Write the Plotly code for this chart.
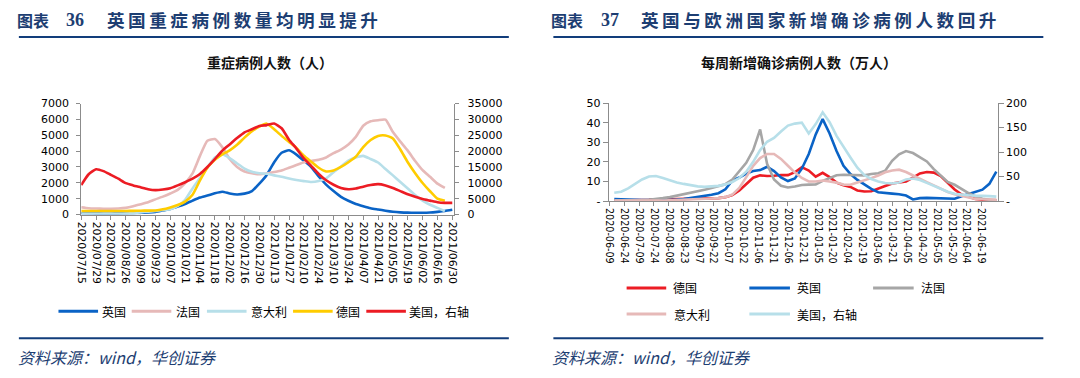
import plotly.graph_objects as go
import pandas as pd

W, H = 1080, 378

# ---------------- Left chart: ICU patients (weekly readings) ----------------
left_start = "2020-07-15"
uk_icu = [80, 70, 60, 55, 55, 60, 70, 90, 110, 130,
          170, 260, 350, 500, 670, 880, 1075, 1200, 1340, 1440,
          1330, 1270, 1320, 1480, 1950, 2500, 3300, 3900, 4050, 3780,
          3400, 3000, 2400, 1890, 1480, 1120, 870, 670, 530, 405,
          325, 245, 180, 140, 120, 115, 115, 130, 170, 220, 300]
fr_icu = [460, 400, 380, 370, 370, 380, 420, 520, 650, 780,
          960, 1130, 1330, 1560, 1990, 2600, 3700, 4650, 4760, 4250,
          3500, 3000, 2720, 2610, 2540, 2590, 2680, 2780, 2950, 3120,
          3300, 3380, 3450, 3600, 3870, 4100, 4420, 4900, 5600, 5880,
          5950, 5980, 5200, 4600, 4030, 3380, 2800, 2380, 1950, 1680, None]
it_icu = [60, 55, 50, 45, 45, 50, 60, 90, 140, 180,
          220, 280, 340, 540, 930, 1650, 2300, 2970, 3600, 3800,
          3560, 3220, 2900, 2700, 2610, 2570, 2470, 2390, 2270, 2180,
          2110, 2050, 2110, 2280, 2670, 3030, 3400, 3600, 3700, 3500,
          3280, 2870, 2470, 2050, 1640, 1230, 880, 620, 420, 220, None]
de_icu = [230, 230, 225, 225, 225, 225, 230, 235, 245, 250,
          260, 330, 450, 600, 820, 1250, 2150, 2950, 3450, 3800,
          4050, 4400, 4850, 5250, 5550, 5730, 5380, 4960, 4580, 4200,
          3710, 3330, 2950, 2720, 2780, 3000, 3300, 3650, 4250, 4700,
          4960, 4990, 4800, 4100, 3300, 2610, 1990, 1470, 1000, 870, None]
us_icu = [9300, 12700, 14300, 13700, 12500, 11300, 9900, 9200, 8600, 8000,
          7700, 7900, 8300, 9200, 10200, 11300, 12800, 15000, 17500, 20100,
          22100, 24100, 25900, 26900, 27900, 28200, 28700, 27200, 23600, 20800,
          17700, 15300, 12800, 10800, 9400, 8400, 8000, 8200, 8800, 9300,
          9600, 9200, 8400, 7400, 6400, 5600, 4900, 4400, 3900, 3700, 3700]
left_ticks = ["2020/07/15", "2020/07/29", "2020/08/12", "2020/08/26", "2020/09/09",
              "2020/09/23", "2020/10/07", "2020/10/21", "2020/11/04", "2020/11/18",
              "2020/12/02", "2020/12/16", "2020/12/30", "2021/01/13", "2021/01/27",
              "2021/02/10", "2021/02/24", "2021/03/10", "2021/03/24", "2021/04/07",
              "2021/04/21", "2021/05/05", "2021/05/19", "2021/06/02", "2021/06/16",
              "2021/06/30"]

# ---------------- Right chart: weekly new cases (10k) ----------------
right_start = "2020-06-14"
de_cases = [0.3, 0.3, 0.3, 0.4, 0.5, 0.6, 0.8, 0.9, 0.9, 0.9,
            0.9, 1.0, 1.1, 1.2, 1.3, 1.5, 2.0, 3.0, 5.4, 8.9,
            11.9, 13.1, 12.8, 12.9, 13.3, 13.2, 14.7, 17.3, 15.6, 12.4,
            14.4, 12.2, 9.4, 8.1, 7.2, 5.4, 4.9, 5.0, 6.2, 7.7,
            9.0, 9.5, 10.0, 12.0, 14.1, 14.8, 14.5, 12.8, 9.3, 5.9,
            3.3, 2.0, 1.1, 0.7, 0.5, 0.4]
uk_cases = [1.0, 0.8, 0.6, 0.5, 0.5, 0.5, 0.5, 0.6, 0.7, 0.8,
            1.0, 1.5, 2.0, 2.7, 3.2, 4.0, 6.0, 10.5, 12.0, 14.0,
            15.3, 15.8, 17.5, 15.3, 12.0, 10.2, 11.5, 16.5, 24.0, 34.0,
            41.8, 34.5, 25.5, 18.0, 13.8, 10.8, 8.6, 6.2, 4.5, 4.0,
            3.8, 3.5, 2.8, 0.8, 1.5, 1.6, 1.5, 1.4, 1.3, 1.2,
            2.4, 3.5, 4.6, 5.8, 8.8, 15.0]
fr_cases = [0.2, 0.2, 0.3, 0.4, 0.5, 0.7, 1.0, 1.5, 2.0, 2.7,
            3.4, 4.2, 5.0, 5.8, 6.6, 7.6, 8.6, 11.0, 15.0, 19.5,
            26.0, 36.5, 19.0, 11.0, 7.8, 6.9, 7.4, 8.2, 8.4, 8.5,
            10.3, 11.8, 13.2, 13.4, 13.2, 13.1, 13.1, 13.8, 14.2, 15.5,
            20.5, 23.8, 25.5, 24.5, 22.5, 20.2, 16.3, 12.8, 9.8, 8.3,
            6.1, 4.1, 2.4, 1.2, 0.7, 0.5]
it_cases = [0.2, 0.15, 0.15, 0.15, 0.2, 0.2, 0.25, 0.3, 0.4, 0.6,
            0.8, 0.9, 1.0, 1.1, 1.3, 1.5, 2.0, 3.3, 6.7, 12.2,
            18.0, 21.9, 24.0, 24.0, 21.5, 18.0, 14.5, 11.8, 10.0, 10.0,
            10.5, 10.0, 9.4, 8.4, 8.3, 9.5, 10.5, 11.7, 13.0, 14.7,
            15.6, 16.0, 14.8, 13.0, 11.0, 9.6, 8.0, 6.3, 4.6, 3.5,
            2.7, 1.6, 1.1, 0.9, 0.8, 0.7]
us_cases = [17, 19, 26, 35, 44, 50, 51, 47, 42, 38,
            35, 32, 30, 29, 30, 31, 34, 39, 47, 60,
            80, 104, 121, 129, 142, 154, 158, 160, 138, 157,
            181, 161, 133, 110, 89, 68, 53, 45, 40, 37,
            36, 38, 44, 46, 43, 37, 31, 24, 19, 15,
            13, 12, 11, 11, 10, 9]
right_ticks = ["2020-06-09", "2020-06-24", "2020-07-09", "2020-07-24", "2020-08-08",
               "2020-08-23", "2020-09-07", "2020-09-22", "2020-10-07", "2020-10-22",
               "2020-11-06", "2020-11-21", "2020-12-06", "2020-12-21", "2021-01-05",
               "2021-01-20", "2021-02-04", "2021-02-19", "2021-03-06", "2021-03-21",
               "2021-04-05", "2021-04-20", "2021-05-05", "2021-05-20", "2021-06-04",
               "2021-06-19"]

left_dates = pd.date_range(left_start, periods=len(us_icu), freq="7D")
right_dates = pd.date_range(right_start, periods=len(us_cases), freq="7D")

# colours
BLUE = "#0A63C6"
PINK = "#E6B9B8"
LBLUE = "#B7DFE9"
YELLOW = "#FFCC00"
RED = "#EC1C24"
GRAY = "#A6A6A6"
NAVY = "#1D3E72"
LINE_NAVY = "#123D7B"
AXIS = "#8C8C8C"

CJK = "Noto Sans CJK SC"
NUM = "DejaVu Sans"


def px(x):
    return x / W


def py(y):
    return 1 - y / H


fig = go.Figure()

lw = 2.6
# left chart
for name, vals, col, ax in [("英国", uk_icu, BLUE, "y"), ("法国", fr_icu, PINK, "y"),
                            ("意大利", it_icu, LBLUE, "y"), ("德国", de_icu, YELLOW, "y"),
                            ("美国，右轴", us_icu, RED, "y2")]:
    fig.add_trace(go.Scatter(x=left_dates, y=vals, name=name, mode="lines",
                             line=dict(color=col, width=lw, shape="spline", smoothing=0.5),
                             xaxis="x", yaxis=ax, showlegend=False, connectgaps=False))

# right chart
for name, vals, col, ax in [("德国", de_cases, RED, "y3"), ("英国", uk_cases, BLUE, "y3"),
                            ("法国", fr_cases, GRAY, "y3"), ("意大利", it_cases, PINK, "y3"),
                            ("美国，右轴", us_cases, LBLUE, "y4")]:
    fig.add_trace(go.Scatter(x=right_dates, y=vals, name=name, mode="lines",
                             line=dict(color=col, width=lw),
                             xaxis="x2", yaxis=ax, showlegend=False))

tickfont = dict(family=NUM, size=11, color="#000000")
axcommon = dict(showline=True, linecolor=AXIS, linewidth=1, ticks="outside",
                tickcolor=AXIS, ticklen=4, showgrid=False, zeroline=False, fixedrange=True)

left_tickvals = [pd.Timestamp(s.replace("/", "-")) for s in left_ticks]
right_tickvals = [pd.Timestamp(s) for s in right_ticks]

fig.update_layout(
    width=W, height=H, autosize=False,
    margin=dict(l=0, r=0, t=0, b=0),
    paper_bgcolor="white", plot_bgcolor="white",
    showlegend=False, hovermode=False,
    xaxis=dict(domain=[px(75), px(452)], anchor="y", type="date",
               range=["2020-07-15", "2021-07-02"],
               tickvals=left_tickvals, ticktext=left_ticks, tickangle=90,
               tickfont=dict(family=NUM, size=10.8, color="#000"), **axcommon),
    yaxis=dict(domain=[py(216), py(101)], anchor="x", range=[0, 7000], dtick=1000,
               tickformat="d", tickfont=tickfont, ticklabelstandoff=5, **axcommon),
    yaxis2=dict(overlaying="y", anchor="x", side="right", range=[0, 35000], dtick=5000,
                tickformat="d", tickfont=tickfont, ticklabelstandoff=6, **axcommon),
    xaxis2=dict(domain=[px(608), px(1001)], anchor="y3", type="date",
                range=["2020-06-08 12:00", "2021-07-05 12:00"],
                tickvals=right_tickvals, ticktext=right_ticks, tickangle=90,
                tickfont=dict(family=NUM, size=9.6, color="#000"), **axcommon),
    yaxis3=dict(domain=[py(202), py(100.5)], anchor="x2", range=[0, 50],
                tickvals=[0, 10, 20, 30, 40, 50], ticktext=["-", "10", "20", "30", "40", "50"],
                tickfont=tickfont, **dict(axcommon, ticklen=5)),
    yaxis4=dict(overlaying="y3", anchor="x2", side="right", range=[0, 200],
                tickvals=[0, 50, 100, 150, 200], ticktext=["-", "50", "100", "150", "200"],
                tickfont=tickfont, **dict(axcommon, ticklen=5)),
)

shapes = []
ann = []

# header rules and footer rules
for x0, x1 in [(12, 507), (552, 1047)]:
    shapes.append(dict(type="line", xref="paper", yref="paper", x0=px(x0), x1=px(x1),
                       y0=py(32), y1=py(32), line=dict(color=LINE_NAVY, width=2)))
    shapes.append(dict(type="line", xref="paper", yref="paper", x0=px(x0), x1=px(x1),
                       y0=py(344), y1=py(344), line=dict(color=LINE_NAVY, width=2)))


def text(x, y, s, size, color="#000", family=CJK, xanchor="left"):
    ann.append(dict(xref="paper", yref="paper", x=px(x), y=py(y), text=s, showarrow=False,
                    xanchor=xanchor, yanchor="middle", borderpad=0,
                    font=dict(family=family, size=size, color=color)))


# panel headings
text(9, 14, "<b>图表</b>", 16, NAVY)
text(59, 14, "<b>36</b>", 18, NAVY, family="Liberation Serif")
text(100, 14, "<b>" + "\u2009".join("英国重症病例数量均明显提升") + "</b>", 17.6, NAVY)
text(549, 14, "<b>图表</b>", 16, NAVY)
text(599, 14, "<b>37</b>", 18, NAVY, family="Liberation Serif")
text(640, 14, "<b>" + "\u2009".join("英国与欧洲国家新增确诊病例人数回升") + "</b>", 17.6, NAVY)

# chart titles
text(266, 58, "<b>重症病例人数（人）</b>", 14, "#111", xanchor="center")
text(800, 58, "<b>每周新增确诊病例人数（万人）</b>", 14, "#111", xanchor="center")

# sources
text(10, 364, "<i>资料来源：wind，华创证券</i>", 16, NAVY)
text(550, 364, "<i>资料来源：wind，华创证券</i>", 16, NAVY)

# legends (manual)
leg_left = [(52, 92, 95, "英国", BLUE), (126, 166, 170, "法国", PINK),
            (202, 242, 245, "意大利", LBLUE), (289, 329, 331, "德国", YELLOW),
            (363, 403, 405, "美国，右轴", RED)]
leg_right = [(626, 666, 672, 292, "德国", RED), (750, 791, 797, 292, "英国", BLUE),
             (875, 916, 922, 292, "法国", GRAY), (626, 666, 673, 319, "意大利", PINK),
             (750, 791, 797, 319, "美国，右轴", LBLUE)]
for x0, x1, tx, label, col in leg_left:
    shapes.append(dict(type="line", xref="paper", yref="paper", x0=px(x0), x1=px(x1),
                       y0=py(316), y1=py(316), line=dict(color=col, width=3)))
    text(tx, 316, label, 12, "#000")
for x0, x1, tx, yy, label, col in leg_right:
    shapes.append(dict(type="line", xref="paper", yref="paper", x0=px(x0), x1=px(x1),
                       y0=py(yy), y1=py(yy), line=dict(color=col, width=3)))
    text(tx, yy, label, 12, "#000")

fig.update_layout(shapes=shapes, annotations=ann)
fig.write_html("out.html", config={"displayModeBar": False, "staticPlot": True},
               post_script="document.body.style.margin='0';document.body.style.overflow='hidden';")
